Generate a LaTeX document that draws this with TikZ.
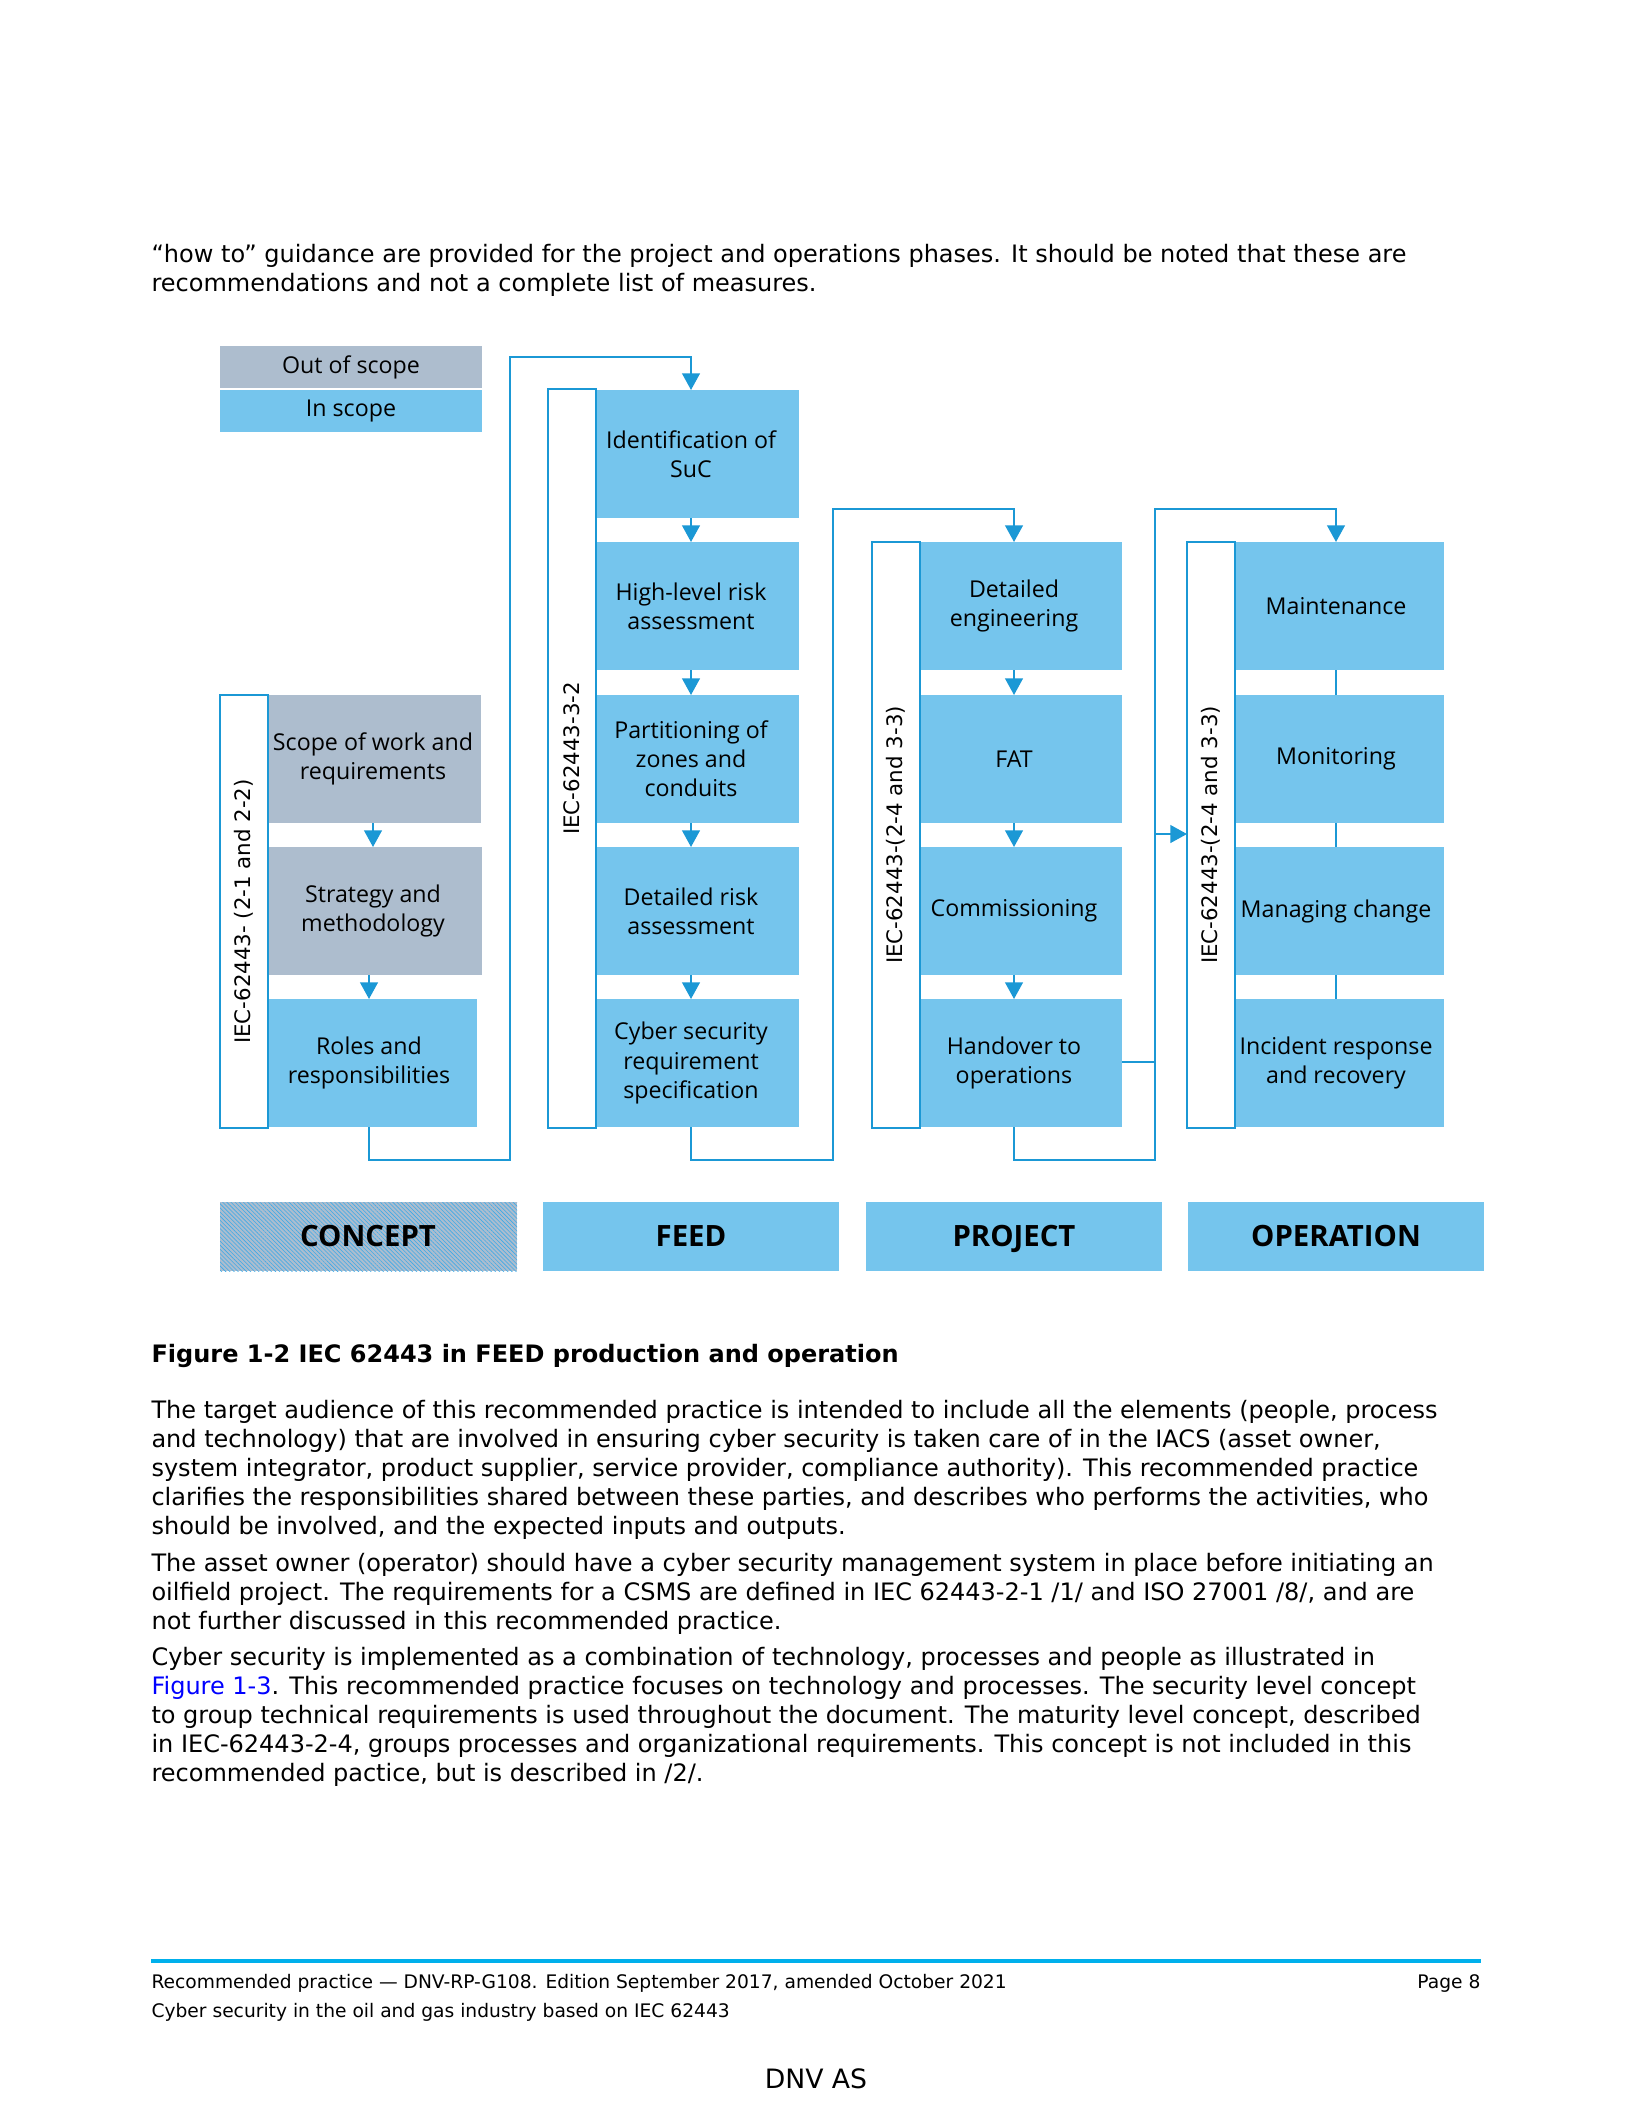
\documentclass[tikz,border=0pt]{standalone}
\usepackage{fontspec}
\setmainfont{DejaVu Sans}
\newfontfamily\segoe{Open Sans}
\usetikzlibrary{arrows.meta,patterns.meta}
\definecolor{boxblue}{RGB}{117,197,237}
\definecolor{boxgrey}{RGB}{173,189,206}
\definecolor{lineblue}{RGB}{27,152,213}
\definecolor{hatchblue}{RGB}{60,170,232}
\definecolor{footblue}{RGB}{0,176,236}
\definecolor{linkblue}{RGB}{0,0,255}
% box: name, x1, y1, x2, y2, style
\newcommand\mybox[6]{\node[#6, minimum width={(#4-#2)*0.375pt}, minimum height={(#5-#3)*0.375pt}] (#1) at ({(#2+#4)/2},{(#3+#5)/2}) {};}
\begin{document}
\begin{tikzpicture}[x=0.375pt,y=-0.375pt,
  blu/.style={fill=boxblue, draw=none, inner sep=0pt, outer sep=0pt},
  gry/.style={fill=boxgrey, draw=none, inner sep=0pt, outer sep=0pt},
  labbar/.style={fill=white, draw=lineblue, line width=0.75pt, inner sep=0pt, outer sep=0pt},
  btxt/.style={font=\segoe\fontsize{8.7}{10.9}\selectfont, align=center, inner sep=0pt},
  vtxt/.style={font=\fontsize{8}{10}\selectfont, rotate=90, inner sep=0pt},
  ptxt/.style={font=\segoe\bfseries\fontsize{11}{13}\selectfont, inner sep=0pt, text height=7.85pt, text depth=0pt},
  ln/.style={draw=lineblue, line width=0.75pt},
  arr/.style={ln, -{Triangle[width=6.6pt,length=6.2pt]}},
  body/.style={anchor=base west, inner sep=0pt, font=\fontsize{9}{10.9}\selectfont},
  foot/.style={anchor=base west, inner sep=0pt, font=\fontsize{7}{9}\selectfont}]
\useasboundingbox (0,0) rectangle (1632,2112);
\fill[white] (0,0) rectangle (1632,2112);

% top paragraph
\node[body] (t1) at (151,262) {“how to” guidance are provided for the project and operations phases. It should be noted that these are};
\node[body] (t2) at (151,291) {recommendations and not a complete list of measures.};

% legend
\mybox{leg1}{220}{346}{482}{388}{gry}
\mybox{leg2}{220}{390}{482}{432}{blu}
\node[btxt] (leg1t) at (351,367) {Out of scope};
\node[btxt] (leg2t) at (351,411) {In scope};

% concept column
\mybox{c1}{268}{695}{481}{823}{gry}
\mybox{c2}{268}{847}{482}{975}{gry}
\mybox{c3}{268}{999}{477}{1127}{blu}
\node[btxt] (c1t) at (373,759) {Scope of work and\\requirements};
\node[btxt] (c2t) at (373,911) {Strategy and\\methodology};
\node[btxt] (c3t) at (369,1063) {Roles and\\responsibilities};
\mybox{clab}{220}{695}{268}{1128}{labbar}
\node[vtxt] (clabt) at (clab.center) {IEC-62443- (2-1 and 2-2)};

% feed column
\mybox{f1}{596}{390}{799}{518}{blu}
\mybox{f2}{596}{542}{799}{670}{blu}
\mybox{f3}{596}{695}{799}{823}{blu}
\mybox{f4}{596}{847}{799}{975}{blu}
\mybox{f5}{596}{999}{799}{1127}{blu}
\node[btxt] (f1t) at (691,454) {Identification of\\SuC};
\node[btxt] (f2t) at (691,606) {High-level risk\\assessment};
\node[btxt] (f3t) at (691,759) {Partitioning of\\zones and\\conduits};
\node[btxt] (f4t) at (691,911) {Detailed risk\\assessment};
\node[btxt] (f5t) at (691,1063) {Cyber security\\requirement\\specification};
\mybox{flab}{548}{389}{596}{1128}{labbar}
\node[vtxt] (flabt) at (flab.center) {IEC-62443-3-2};

% project column
\mybox{p1}{920}{542}{1122}{670}{blu}
\mybox{p2}{920}{695}{1122}{823}{blu}
\mybox{p3}{920}{847}{1122}{975}{blu}
\mybox{p4}{920}{999}{1122}{1127}{blu}
\node[btxt] (p1t) at (1014,606) {Detailed\\engineering};
\node[btxt] (p2t) at (1014,759) {FAT};
\node[btxt] (p3t) at (1014,911) {Commissioning};
\node[btxt] (p4t) at (1014,1063) {Handover to\\operations};
\mybox{plab}{872}{542}{920}{1128}{labbar}
\node[vtxt] (plabt) at (plab.center) {IEC-62443-(2-4 and 3-3)};

% operation column
\mybox{o1}{1235}{542}{1444}{670}{blu}
\mybox{o2}{1235}{695}{1444}{823}{blu}
\mybox{o3}{1235}{847}{1444}{975}{blu}
\mybox{o4}{1235}{999}{1444}{1127}{blu}
\node[btxt] (o1t) at (1336,606) {Maintenance};
\node[btxt] (o2t) at (1336,759) {Monitoring};
\node[btxt] (o3t) at (1336,911) {Managing change};
\node[btxt] (o4t) at (1336,1063) {Incident response\\and recovery};
\mybox{olab}{1187}{542}{1235}{1128}{labbar}
\node[vtxt] (olabt) at (olab.center) {IEC-62443-(2-4 and 3-3)};

% arrows within columns
\draw[arr] (c1t |- c1.south) -- (c1t |- c2.north);
\draw[arr] (c3t |- c2.south) -- (c3t |- c3.north);
\draw[arr] (f1t |- f1.south) -- (f1t |- f2.north);
\draw[arr] (f1t |- f2.south) -- (f1t |- f3.north);
\draw[arr] (f1t |- f3.south) -- (f1t |- f4.north);
\draw[arr] (f1t |- f4.south) -- (f1t |- f5.north);
\draw[arr] (p1t |- p1.south) -- (p1t |- p2.north);
\draw[arr] (p1t |- p2.south) -- (p1t |- p3.north);
\draw[arr] (p1t |- p3.south) -- (p1t |- p4.north);
\draw[ln] (o1t |- o1.south) -- (o1t |- o2.north);
\draw[ln] (o1t |- o2.south) -- (o1t |- o3.north);
\draw[ln] (o1t |- o3.south) -- (o1t |- o4.north);

% loops between phases
\coordinate (cl1) at (510,1160);
\coordinate (cl2) at (510,357);
\coordinate (fl1) at (833,1160);
\coordinate (fl2) at (833,509);
\coordinate (pl1) at (1155,1160);
\coordinate (pl2) at (1155,509);
\coordinate (pj) at (1155,1062);
\coordinate (pa) at (1155,834);
\draw[arr] (c3t |- c3.south) |- (cl1) -- (cl2) -| (f1t |- f1.north);
\draw[arr] (f5t |- f5.south) |- (fl1) -- (fl2) -| (p1t |- p1.north);
\draw[arr] (p4t |- p4.south) |- (pl1) -- (pl2) -| (o1t |- o1.north);
\draw[ln] (p4.east |- pj) -- (pj);
\draw[arr] (pa) -- (olab.west |- pa);

% phase bars
\mybox{ph1}{220}{1202}{517}{1271}{draw=none, inner sep=0pt, preaction={fill=boxgrey}, pattern={Lines[angle=-45,distance=1.1pt,line width=0.22pt]}, pattern color=hatchblue}
\mybox{ph2}{543}{1202}{839}{1271}{blu}
\mybox{ph3}{866}{1202}{1162}{1271}{blu}
\mybox{ph4}{1188}{1202}{1484}{1271}{blu}
\node[ptxt] (ph1t) at (368,1236) {CONCEPT};
\node[ptxt] (ph2t) at (691,1236) {FEED};
\node[ptxt] (ph3t) at (1014,1236) {PROJECT};
\node[ptxt] (ph4t) at (1336,1236) {OPERATION};

% caption and body
\node[body, font=\bfseries\fontsize{9}{10.9}\selectfont] (cap) at (151,1362) {Figure 1-2 IEC 62443 in FEED production and operation};
\node[body] (a1) at (151,1418) {The target audience of this recommended practice is intended to include all the elements (people, process};
\node[body] (a2) at (151,1447) {and technology) that are involved in ensuring cyber security is taken care of in the IACS (asset owner,};
\node[body] (a3) at (151,1476) {system integrator, product supplier, service provider, compliance authority). This recommended practice};
\node[body] (a4) at (151,1505) {clarifies the responsibilities shared between these parties, and describes who performs the activities, who};
\node[body] (a5) at (151,1534) {should be involved, and the expected inputs and outputs.};
\node[body] (b1) at (151,1571) {The asset owner (operator) should have a cyber security management system in place before initiating an};
\node[body] (b2) at (151,1600) {oilfield project. The requirements for a CSMS are defined in IEC 62443-2-1 /1/ and ISO 27001 /8/, and are};
\node[body] (b3) at (151,1629) {not further discussed in this recommended practice.};
\node[body] (d1) at (151,1665) {Cyber security is implemented as a combination of technology, processes and people as illustrated in};
\node[body] (d2) at (151,1694) {\textcolor{linkblue}{Figure 1-3}. This recommended practice focuses on technology and processes. The security level concept};
\node[body] (d3) at (151,1723) {to group technical requirements is used throughout the document. The maturity level concept, described};
\node[body] (d4) at (151,1752) {in IEC-62443-2-4, groups processes and organizational requirements. This concept is not included in this};
\node[body] (d5) at (151,1781) {recommended pactice, but is described in /2/.};

% footer
\coordinate (fa) at (151,1961);
\coordinate (fb) at (1481,1961);
\draw[footblue, line width=1.5pt] (fa) -- (fb);
\node[foot] (ft1) at (151,1988) {Recommended practice — DNV-RP-G108. Edition September 2017, amended October 2021};
\node[foot, anchor=base east] (ft3) at (1481,1988) {Page 8};
\node[foot] (ft2) at (151,2017) {Cyber security in the oil and gas industry based on IEC 62443};
\node[anchor=base, inner sep=0pt, font=\fontsize{10}{12}\selectfont] (dnv) at (816,2088) {DNV AS};
\end{tikzpicture}
\end{document}
